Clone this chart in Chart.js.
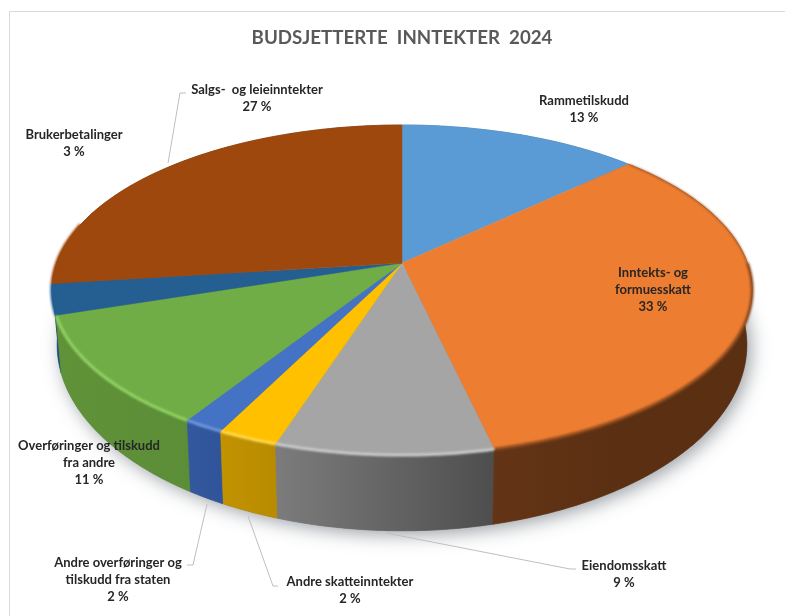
<!DOCTYPE html>
<html><head><meta charset="utf-8">
<script src="https://cdn.jsdelivr.net/npm/chart.js@4/dist/chart.umd.js"></script>
<style>html,body{margin:0;padding:0;background:#fff}canvas{display:block;filter:blur(0.4px)}</style>
</head><body><canvas id="c" width="785" height="616"></canvas>
<script>
const titleText = "BUDSJETTERTE  INNTEKTER  2024";
const categories = ["Rammetilskudd","Inntekts- og formuesskatt","Eiendomsskatt","Andre skatteinntekter","Andre overføringer og tilskudd fra staten","Overføringer og tilskudd fra andre","Brukerbetalinger","Salgs- og leieinntekter"];
const shares = [13.0,33.4,8.6,2.4,1.6,11.0,3.0,27.0];
const topColors = ["#5b9bd5","#ed7d31","#a5a5a5","#ffc000","#4472c4","#70ad47","#255e91","#9e480e"];
const wallLeft  = ["#3c6f9e","#643416","#7c7c7c","#c29200","#34589e","#5f9239","#1f4f7c","#6e3209"];
const wallRight = ["#3c6f9e","#5a2f12","#4e4e4e","#b88b00","#30549a","#5b8e36","#1f4f7c","#6e3209"];
const rimColors = ["#5b9bd5","#8a4a1e","#c9c9c9","#ffd84d","#6f95dd","#93d365","#255e91","#9e480e"];
const labelLines = [["Rammetilskudd"],["Inntekts- og","formuesskatt"],["Eiendomsskatt"],["Andre skatteinntekter"],["Andre overføringer og","tilskudd fra staten"],["Overføringer og tilskudd","fra andre"],["Brukerbetalinger"],["Salgs-  og leieinntekter"]];
const labelAnchors = [[584,101],[653,273],[624,566],[350,582],[118,563],[89,446],[74,135],[257,90]];
const leaderPaths = {2:[[386,533],[570,569],[576,569]],3:[[248,516],[273,586],[278,586]],4:[[207,504],[193,565],[187,565]],7:[[168,163],[180,93],[186,93]]};

const G = {cx:402, cy:263, R:345.4, b:160.6, k:0.1638, xs:0.985, ys:1.127, d:51.4};
function topPt(a){const u=Math.cos(a),v=Math.sin(a),w=1-G.k*v;return [G.cx+G.R*u/w,G.cy+G.b*v/w];}
function botPt(a){const p=topPt(a);return [G.cx+(p[0]-G.cx)*G.xs,G.cy+(p[1]-G.cy)*G.ys+G.d];}
function arcPts(f,a0,a1){const n=Math.max(2,Math.ceil(Math.abs(a1-a0)/0.01)),o=[];for(let i=0;i<=n;i++)o.push(f(a0+(a1-a0)*i/n));return o;}
function poly(ctx,pts,move){pts.forEach((p,i)=>{(i===0&&move)?ctx.moveTo(p[0],p[1]):ctx.lineTo(p[0],p[1]);});}

const pie3d = {
  id:'pie3d',
  beforeDatasetDraw(chart){
    const ctx=chart.ctx, arcs=chart.getDatasetMeta(0).data;
    ctx.save();
    // soft shadow below the body
    ctx.save();
    ctx.shadowColor='rgba(60,70,80,.5)';ctx.shadowBlur=18;ctx.shadowOffsetX=4;ctx.shadowOffsetY=4;
    ctx.fillStyle='#777';ctx.beginPath();
    poly(ctx,arcPts(botPt,-0.25,Math.PI+0.25),true);ctx.closePath();ctx.fill();
    ctx.restore();
    // side wall, far slices first
    for(let i=arcs.length-1;i>=0;i--){
      const el=arcs[i],a0=el.startAngle,a1=el.endAngle;
      const t=arcPts(topPt,a0,a1),b=arcPts(botPt,a1,a0);
      const g=ctx.createLinearGradient(t[t.length-1][0],0,t[0][0],0);
      g.addColorStop(0,wallLeft[i]);g.addColorStop(1,wallRight[i]);
      ctx.fillStyle=g;ctx.strokeStyle=g;ctx.lineWidth=.6;
      ctx.beginPath();poly(ctx,t,true);poly(ctx,b,false);ctx.closePath();ctx.fill();ctx.stroke();
    }
    // top face
    arcs.forEach((el,i)=>{
      ctx.fillStyle=topColors[i];ctx.strokeStyle=topColors[i];ctx.lineWidth=.5;
      ctx.beginPath();ctx.moveTo(G.cx,G.cy);poly(ctx,arcPts(topPt,el.startAngle,el.endAngle),false);ctx.closePath();ctx.fill();ctx.stroke();
    });
    // bevel along the rim: thin on the far edge, wider on the near edge
    ctx.lineCap='butt';
    const bands=[[-0.75,0,1.1],[0,Math.PI*1.08,3]];
    bands.forEach(([lo,hi,w])=>{
      arcs.forEach((el,i)=>{
        const a0=Math.max(el.startAngle,lo),a1=Math.min(el.endAngle,hi);
        if(a1<=a0) return;
        ctx.save();ctx.filter='blur(1px)';ctx.strokeStyle=rimColors[i];ctx.lineWidth=w;
        ctx.beginPath();poly(ctx,arcPts(topPt,a0,a1),true);ctx.stroke();ctx.restore();
      });
    });
    ctx.restore();
    return false;
  },
  afterDraw(chart){
    const ctx=chart.ctx;
    ctx.save();
    ctx.strokeStyle='#d9d9d9';ctx.lineWidth=1;
    ctx.beginPath();ctx.moveTo(9.5,616);ctx.lineTo(9.5,11.5);ctx.lineTo(785,11.5);ctx.stroke();
    ctx.strokeStyle='#bfbfbf';ctx.lineWidth=1;
    Object.values(leaderPaths).forEach(p=>{ctx.beginPath();poly(ctx,p,true);ctx.stroke();});
    ctx.fillStyle='#262626';ctx.font='bold 13px Lato';ctx.textAlign='center';ctx.textBaseline='middle';
    shares.forEach((v,i)=>{
      const [x,y]=labelAnchors[i];
      const lines=labelLines[i].concat([Math.round(v)+' %']);
      lines.forEach((s,j)=>ctx.fillText(s,x,y+j*17));
    });
    ctx.restore();
  }
};

new Chart(document.getElementById('c'),{
  type:'pie',
  data:{labels:categories,datasets:[{data:shares,backgroundColor:topColors,borderWidth:0}]},
  options:{responsive:false,animation:false,events:[],
    layout:{padding:{left:19,top:0}},
    plugins:{legend:{display:false},tooltip:{enabled:false},
      title:{display:true,text:titleText,color:'#595959',font:{family:'Lato',size:18.7,weight:'bold'},padding:{top:27,bottom:10}}}},
  plugins:[pie3d]
});
</script></body></html>
